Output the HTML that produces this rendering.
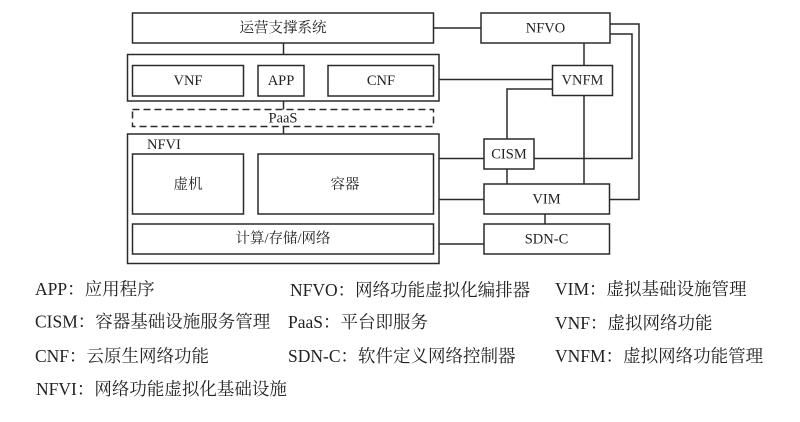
<!DOCTYPE html>
<html><head><meta charset="utf-8">
<style>
html,body{margin:0;padding:0;background:#fff;}
svg{display:block;}
text{font-family:"Liberation Serif","Noto Serif CJK SC",serif;fill:#222;}
</style></head>
<body>
<svg width="800" height="422" viewBox="0 0 800 422" xmlns="http://www.w3.org/2000/svg">
<g fill="none" stroke="#2a2a2a" stroke-width="1.5">
  <!-- left column boxes -->
  <rect x="132.5" y="13" width="301" height="30"/>
  <rect x="127.5" y="54.5" width="311.5" height="46.5"/>
  <rect x="132.5" y="65.5" width="111" height="30.5"/>
  <rect x="258" y="65.5" width="46" height="30.5"/>
  <rect x="328" y="65.5" width="105.5" height="30.5"/>
  <rect x="132.5" y="109.5" width="301" height="17" stroke-dasharray="7,4"/>
  <rect x="127.5" y="134" width="311.5" height="129.5"/>
  <rect x="132.5" y="154" width="111" height="60"/>
  <rect x="258" y="154" width="175.5" height="60"/>
  <rect x="132.5" y="224" width="301" height="30"/>
  <!-- right column boxes -->
  <rect x="481" y="13" width="129" height="30"/>
  <rect x="552.5" y="65.5" width="60" height="30"/>
  <rect x="484" y="139" width="50" height="30"/>
  <rect x="484" y="184" width="125.5" height="30"/>
  <rect x="484" y="224" width="125.5" height="30"/>
  <!-- vertical connectors in left column -->
  <line x1="283.5" y1="43" x2="283.5" y2="54.5"/>
  <line x1="283.5" y1="101" x2="283.5" y2="109.5"/>
  <line x1="283.5" y1="126.5" x2="283.5" y2="134"/>
  <!-- horizontal connectors -->
  <line x1="433.5" y1="28" x2="481" y2="28"/>
  <line x1="439" y1="79.5" x2="552.5" y2="79.5"/>
  <line x1="439" y1="158.5" x2="484" y2="158.5"/>
  <line x1="439" y1="199.5" x2="484" y2="199.5"/>
  <line x1="439" y1="244" x2="484" y2="244"/>
  <!-- NFVO-VNFM -->
  <line x1="584" y1="43" x2="584" y2="65.5"/>
  <!-- VNFM down to VIM -->
  <line x1="584" y1="95.5" x2="584" y2="184"/>
  <!-- VNFM left to CISM -->
  <polyline points="552.5,89 507,89 507,139"/>
  <!-- CISM to VIM -->
  <line x1="507" y1="169" x2="507" y2="184"/>
  <!-- VIM to SDN-C -->
  <line x1="545" y1="214" x2="545" y2="224"/>
  <!-- NFVO to CISM -->
  <polyline points="610,34 632,34 632,158.5 534,158.5"/>
  <!-- NFVO to VIM -->
  <polyline points="610,24 639,24 639,199.5 609.5,199.5"/>
</g>
<g font-size="14.5" text-anchor="middle" dominant-baseline="central">
  <text x="283" y="28.5">运营支撑系统</text>
  <text x="188" y="81">VNF</text>
  <text x="281" y="81">APP</text>
  <text x="381" y="81">CNF</text>
  <rect x="262" y="111" width="42" height="14" fill="#fff" stroke="none"/>
  <text x="283" y="118.5">PaaS</text>
  <text x="188" y="185">虚机</text>
  <text x="345" y="185">容器</text>
  <text x="283" y="239">计算/存储/网络</text>
  <text x="545.5" y="28.5">NFVO</text>
  <text x="582.5" y="80.5">VNFM</text>
  <text x="509" y="154.5">CISM</text>
  <text x="546.5" y="199.5">VIM</text>
  <text x="546.5" y="239.5">SDN-C</text>
  <text x="147" y="145" text-anchor="start">NFVI</text>
</g>
<g font-size="17.5" dominant-baseline="central">
  <text x="35" y="289">APP：应用程序</text>
  <text x="35" y="321.5">CISM：容器基础设施服务管理</text>
  <text x="35" y="356">CNF：云原生网络功能</text>
  <text x="36" y="389">NFVI：网络功能虚拟化基础设施</text>
  <text x="290" y="290">NFVO：网络功能虚拟化编排器</text>
  <text x="288" y="322">PaaS：平台即服务</text>
  <text x="288" y="356">SDN-C：软件定义网络控制器</text>
  <text x="555" y="289">VIM：虚拟基础设施管理</text>
  <text x="555" y="323">VNF：虚拟网络功能</text>
  <text x="555" y="356">VNFM：虚拟网络功能管理</text>
</g>
</svg>
</body></html>
